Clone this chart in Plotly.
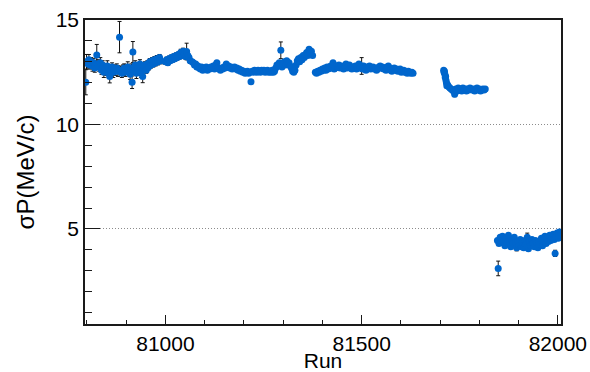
import plotly.graph_objects as go

# Momentum resolution per run, five running periods
run_a = [80797, 80799, 80802, 80805, 80808, 80811, 80814, 80817, 80820, 80825,
         80828, 80831, 80834, 80837, 80840, 80843, 80846, 80849, 80852, 80855,
         80858, 80861, 80864, 80867, 80870, 80873, 80876, 80879, 80883, 80886,
         80889, 80892, 80895, 80898, 80901, 80904, 80907, 80910, 80913, 80915,
         80917, 80920, 80923, 80926, 80929, 80932, 80935, 80938, 80942, 80945,
         80948, 80951, 80954, 80957, 80960, 80963, 80966, 80969, 80972, 80975,
         80978, 80981, 80985, 80988, 81000, 81003, 81006, 81009, 81012, 81015,
         81018, 81021, 81024, 81027, 81030, 81033, 81036, 81039, 81042, 81045,
         81048, 81051, 81054, 81057, 81060, 81063]
sig_a = [12.02, 13.00, 12.90, 13.10, 12.85, 13.00, 12.80, 12.95, 12.70, 13.33,
         12.90, 12.75, 12.95, 12.60, 12.85, 12.50, 12.70, 12.55, 12.80, 12.45,
         12.29, 12.60, 12.75, 12.50, 12.65, 12.55, 12.70, 12.55, 14.18, 12.60,
         12.45, 12.60, 12.70, 12.50, 12.65, 12.75, 12.55, 12.40, 12.70, 12.02,
         13.47, 12.60, 12.85, 12.45, 12.70, 12.55, 12.90, 12.50, 12.30, 12.70,
         12.85, 12.60, 12.90, 12.75, 13.00, 12.85, 13.05, 12.90, 13.10, 12.95,
         13.15, 13.00, 13.20, 13.05, 13.00, 13.10, 12.95, 13.15, 13.05, 13.20,
         13.10, 13.25, 13.15, 13.30, 13.20, 13.35, 13.25, 13.45, 13.30, 13.50,
         13.35, 13.25, 13.49, 13.30, 13.20, 13.05]
err_a = [0.60, 0.35, 0.20, 0.25, 0.20, 0.20, 0.25, 0.20, 0.20, 0.50,
         0.20, 0.20, 0.25, 0.20, 0.20, 0.25, 0.20, 0.20, 0.25, 0.20,
         0.30, 0.20, 0.20, 0.25, 0.20, 0.20, 0.20, 0.25, 0.75, 0.20,
         0.20, 0.25, 0.20, 0.20, 0.20, 0.25, 0.20, 0.25, 0.20, 0.30,
         0.50, 0.20, 0.20, 0.25, 0.20, 0.20, 0.20, 0.25, 0.30, 0.20,
         0.15, 0.15, 0.15, 0.15, 0.15, 0.15, 0.15, 0.15, 0.15, 0.15,
         0.15, 0.15, 0.15, 0.15, 0.12, 0.12, 0.12, 0.12, 0.12, 0.12,
         0.12, 0.12, 0.12, 0.12, 0.12, 0.12, 0.12, 0.15, 0.12, 0.15,
         0.12, 0.12, 0.40, 0.12, 0.12, 0.12]

run_b = [81068, 81071, 81074, 81077, 81080, 81083, 81086, 81089, 81092, 81095,
         81098, 81101, 81104, 81107, 81110, 81113, 81116, 81119, 81122, 81125,
         81128, 81131, 81134, 81137, 81140, 81143, 81146, 81149, 81152, 81155,
         81158, 81161, 81164, 81167, 81170, 81173, 81176, 81179, 81182, 81185,
         81188, 81191, 81194, 81197, 81200, 81203, 81206, 81209, 81212, 81215,
         81218, 81221, 81224, 81227, 81230, 81233, 81236, 81239, 81242, 81245,
         81248, 81251, 81254, 81257, 81260, 81263, 81266, 81269, 81272, 81275,
         81278, 81281, 81284, 81287, 81290, 81294, 81297, 81300, 81303, 81306,
         81309, 81312, 81315, 81318, 81321, 81324, 81327, 81330, 81333, 81336,
         81339, 81342, 81345, 81348, 81351, 81354, 81357, 81360, 81363, 81366,
         81369, 81372, 81375]
sig_b = [13.00, 12.95, 12.85, 12.90, 12.75, 12.80, 12.70, 12.65, 12.75, 12.60,
         12.70, 12.65, 12.75, 12.60, 12.70, 12.65, 12.75, 12.70, 12.80, 12.65,
         12.85, 12.95, 12.70, 12.65, 12.60, 12.70, 12.65, 12.75, 12.70, 12.90,
         12.75, 12.80, 12.70, 12.75, 12.65, 12.70, 12.75, 12.65, 12.70, 12.60,
         12.65, 12.55, 12.60, 12.50, 12.55, 12.45, 12.50, 12.55, 12.45, 12.50,
         12.05, 12.55, 12.50, 12.60, 12.55, 12.50, 12.60, 12.55, 12.50, 12.60,
         12.55, 12.60, 12.50, 12.55, 12.60, 12.50, 12.55, 12.50, 12.60, 12.50,
         12.55, 12.70, 12.85, 12.80, 12.95, 13.55, 12.75, 12.90, 13.00, 12.85,
         13.05, 12.90, 12.95, 12.80, 12.70, 12.55, 12.50, 12.60, 12.85, 13.05,
         13.15, 13.00, 13.20, 13.10, 13.30, 13.20, 13.35, 13.45, 13.30, 13.60,
         13.40, 13.50, 13.30]
err_b = [0.08, 0.08, 0.08, 0.08, 0.08, 0.08, 0.08, 0.08, 0.08, 0.08,
         0.08, 0.08, 0.08, 0.08, 0.08, 0.08, 0.08, 0.08, 0.08, 0.08,
         0.08, 0.08, 0.08, 0.08, 0.08, 0.08, 0.08, 0.08, 0.08, 0.08,
         0.08, 0.08, 0.08, 0.08, 0.08, 0.08, 0.08, 0.08, 0.08, 0.08,
         0.08, 0.08, 0.08, 0.08, 0.08, 0.08, 0.08, 0.08, 0.08, 0.08,
         0.10, 0.08, 0.08, 0.08, 0.08, 0.08, 0.08, 0.08, 0.08, 0.08,
         0.08, 0.08, 0.08, 0.08, 0.08, 0.08, 0.08, 0.08, 0.08, 0.08,
         0.08, 0.08, 0.08, 0.08, 0.08, 0.40, 0.08, 0.08, 0.08, 0.08,
         0.08, 0.08, 0.08, 0.08, 0.08, 0.08, 0.08, 0.08, 0.08, 0.08,
         0.08, 0.08, 0.08, 0.08, 0.08, 0.08, 0.08, 0.08, 0.08, 0.08,
         0.08, 0.08, 0.08]

run_c = [81382, 81385, 81388, 81391, 81394, 81397, 81400, 81403, 81406, 81409,
         81412, 81415, 81418, 81421, 81424, 81427, 81430, 81433, 81436, 81439,
         81442, 81445, 81448, 81451, 81454, 81457, 81460, 81463, 81466, 81469,
         81472, 81475, 81478, 81481, 81484, 81487, 81490, 81493, 81496, 81500,
         81502, 81505, 81508, 81511, 81514, 81517, 81520, 81523, 81526, 81529,
         81532, 81535, 81538, 81541, 81544, 81547, 81550, 81553, 81556, 81559,
         81562, 81565, 81568, 81571, 81574, 81577, 81580, 81583, 81586, 81589,
         81592, 81595, 81598, 81601, 81604, 81607, 81610, 81613, 81616, 81619,
         81622, 81625, 81628, 81631]
sig_c = [12.50, 12.45, 12.55, 12.50, 12.60, 12.55, 12.65, 12.60, 12.70, 12.60,
         12.75, 12.65, 12.70, 12.80, 12.70, 12.95, 12.65, 12.70, 12.80, 12.75,
         12.85, 12.70, 12.80, 12.75, 12.65, 12.80, 12.90, 12.70, 12.75, 12.85,
         12.70, 12.65, 12.75, 12.70, 12.80, 12.65, 12.75, 12.90, 12.70, 12.80,
         12.65, 12.80, 12.70, 12.60, 12.75, 12.70, 12.80, 12.65, 12.70, 12.75,
         12.65, 12.70, 12.60, 12.65, 12.75, 12.80, 12.70, 12.75, 12.65, 12.70,
         12.60, 12.75, 12.80, 12.70, 12.60, 12.55, 12.65, 12.70, 12.60, 12.65,
         12.55, 12.60, 12.65, 12.50, 12.55, 12.60, 12.50, 12.55, 12.45, 12.55,
         12.50, 12.45, 12.50, 12.45]
err_c = [0.08, 0.08, 0.08, 0.08, 0.08, 0.08, 0.08, 0.08, 0.08, 0.08,
         0.08, 0.08, 0.08, 0.08, 0.08, 0.08, 0.08, 0.08, 0.08, 0.08,
         0.08, 0.08, 0.08, 0.08, 0.08, 0.08, 0.08, 0.08, 0.08, 0.08,
         0.08, 0.08, 0.08, 0.08, 0.08, 0.08, 0.08, 0.08, 0.08, 0.40,
         0.08, 0.08, 0.08, 0.08, 0.08, 0.08, 0.08, 0.08, 0.08, 0.08,
         0.08, 0.08, 0.08, 0.08, 0.08, 0.08, 0.08, 0.08, 0.08, 0.08,
         0.08, 0.08, 0.08, 0.08, 0.08, 0.08, 0.08, 0.08, 0.08, 0.08,
         0.08, 0.08, 0.08, 0.08, 0.08, 0.08, 0.08, 0.08, 0.08, 0.08,
         0.08, 0.08, 0.08, 0.08]

run_d = [81709, 81710, 81711, 81712, 81713, 81714, 81715, 81716, 81717, 81719,
         81722, 81725, 81728, 81731, 81734, 81737, 81740, 81743, 81746, 81749,
         81752, 81755, 81758, 81761, 81764, 81767, 81770, 81773, 81776, 81779,
         81782, 81785, 81788, 81791, 81794, 81797, 81800, 81803, 81806, 81809,
         81812, 81815]
sig_d = [12.60, 12.50, 12.55, 12.40, 12.25, 12.30, 12.10, 12.00, 11.85, 11.90,
         11.80, 11.75, 11.70, 11.65, 11.60, 11.45, 11.70, 11.60, 11.75, 11.65,
         11.70, 11.60, 11.75, 11.65, 11.70, 11.60, 11.70, 11.65, 11.75, 11.70,
         11.65, 11.70, 11.60, 11.70, 11.75, 11.65, 11.70, 11.60, 11.65, 11.70,
         11.65, 11.70]
err_d = [0.08, 0.08, 0.08, 0.08, 0.08, 0.08, 0.08, 0.08, 0.08, 0.08,
         0.08, 0.08, 0.08, 0.08, 0.08, 0.12, 0.08, 0.08, 0.08, 0.08,
         0.08, 0.08, 0.08, 0.08, 0.08, 0.08, 0.08, 0.08, 0.08, 0.08,
         0.08, 0.08, 0.08, 0.08, 0.08, 0.08, 0.08, 0.08, 0.08, 0.08,
         0.08, 0.08]

run_e = [81846, 81848, 81850, 81853, 81856, 81859, 81862, 81865, 81868, 81871,
         81874, 81877, 81880, 81883, 81886, 81889, 81892, 81895, 81898, 81901,
         81904, 81907, 81910, 81913, 81916, 81919, 81922, 81925, 81928, 81931,
         81934, 81937, 81940, 81943, 81946, 81949, 81952, 81955, 81958, 81961,
         81964, 81967, 81970, 81973, 81976, 81979, 81982, 81985, 81988, 81991,
         81993, 81995, 81998, 82001, 82004, 82007]
sig_e = [4.45, 3.11, 4.30, 4.60, 4.35, 4.65, 4.40, 4.20, 4.55, 4.30,
         4.70, 4.40, 4.15, 4.45, 4.30, 4.60, 4.35, 4.10, 4.40, 4.20,
         4.50, 4.15, 4.35, 4.10, 4.45, 4.25, 4.60, 4.05, 4.40, 4.20,
         4.50, 4.30, 4.15, 4.45, 4.35, 4.10, 4.40, 4.25, 4.55, 4.20,
         4.40, 4.65, 4.30, 4.55, 4.40, 4.70, 4.45, 4.60, 4.75, 4.50,
         3.83, 4.65, 4.80, 4.55, 4.85, 4.70]
err_e = [0.08, 0.35, 0.08, 0.08, 0.08, 0.08, 0.08, 0.08, 0.08, 0.08,
         0.08, 0.08, 0.08, 0.08, 0.08, 0.08, 0.08, 0.15, 0.08, 0.08,
         0.08, 0.08, 0.08, 0.08, 0.08, 0.08, 0.20, 0.08, 0.08, 0.08,
         0.08, 0.08, 0.08, 0.08, 0.08, 0.08, 0.08, 0.08, 0.08, 0.08,
         0.08, 0.08, 0.08, 0.08, 0.08, 0.08, 0.08, 0.08, 0.08, 0.08,
         0.15, 0.08, 0.08, 0.08, 0.08, 0.08]

x_tick_vals = [81000, 81500, 82000]
x_tick_text = ["81000", "81500", "82000"]
y_tick_vals = [5, 10, 15]
y_tick_text = ["5", "10", "15"]

runs = run_a + run_b + run_c + run_d + run_e
sigma = sig_a + sig_b + sig_c + sig_d + sig_e
sigma_err = err_a + err_b + err_c + err_d + err_e
assert len(runs) == len(sigma) == len(sigma_err)

FONT = "Liberation Sans, Arial, Helvetica, sans-serif"
FRAME = "#1a1a1a"

fig = go.Figure()
fig.add_trace(go.Scatter(
    x=runs, y=sigma, mode="markers",
    marker=dict(color="#0066cc", size=7, line=dict(width=0)),
    error_y=dict(type="data", array=sigma_err, visible=True,
                 color="#111111", thickness=1, width=2),
    hoverinfo="x+y",
))

fig.update_layout(
    width=590, height=372,
    margin=dict(l=85, r=29, t=20, b=48, autoexpand=False),
    paper_bgcolor="white", plot_bgcolor="white",
    showlegend=False,
    font=dict(family=FONT, size=21, color="black"),
)

fig.update_xaxes(
    range=[80795, 82008], automargin=False,
    tickmode="array", tickvals=x_tick_vals, ticktext=x_tick_text,
    ticks="inside", ticklen=9, tickwidth=1, tickcolor=FRAME,
    minor=dict(tickmode="linear", tick0=80000, dtick=100,
               ticks="inside", ticklen=4, tickwidth=1, tickcolor=FRAME),
    showline=True, linecolor=FRAME, linewidth=1.5, mirror=True,
    showgrid=False, zeroline=False,
    tickfont=dict(size=21),
    title=dict(text="Run", font=dict(size=21), standoff=4),
)

fig.update_yaxes(
    range=[0.45, 15], automargin=False,
    tickmode="array", tickvals=y_tick_vals, ticktext=y_tick_text,
    ticks="inside", ticklen=15, tickwidth=1, tickcolor=FRAME,
    minor=dict(tickmode="linear", tick0=0, dtick=1,
               ticks="inside", ticklen=7, tickwidth=1, tickcolor=FRAME,
               showgrid=False),
    showline=True, linecolor=FRAME, linewidth=1.5, mirror=True,
    showgrid=True, gridcolor="#8c8c8c", gridwidth=1, griddash="1px,2px",
    zeroline=False,
    tickfont=dict(size=21),
    title=dict(text="σP(MeV/c)", font=dict(size=24), standoff=14),
)

fig.write_html("out.html")
